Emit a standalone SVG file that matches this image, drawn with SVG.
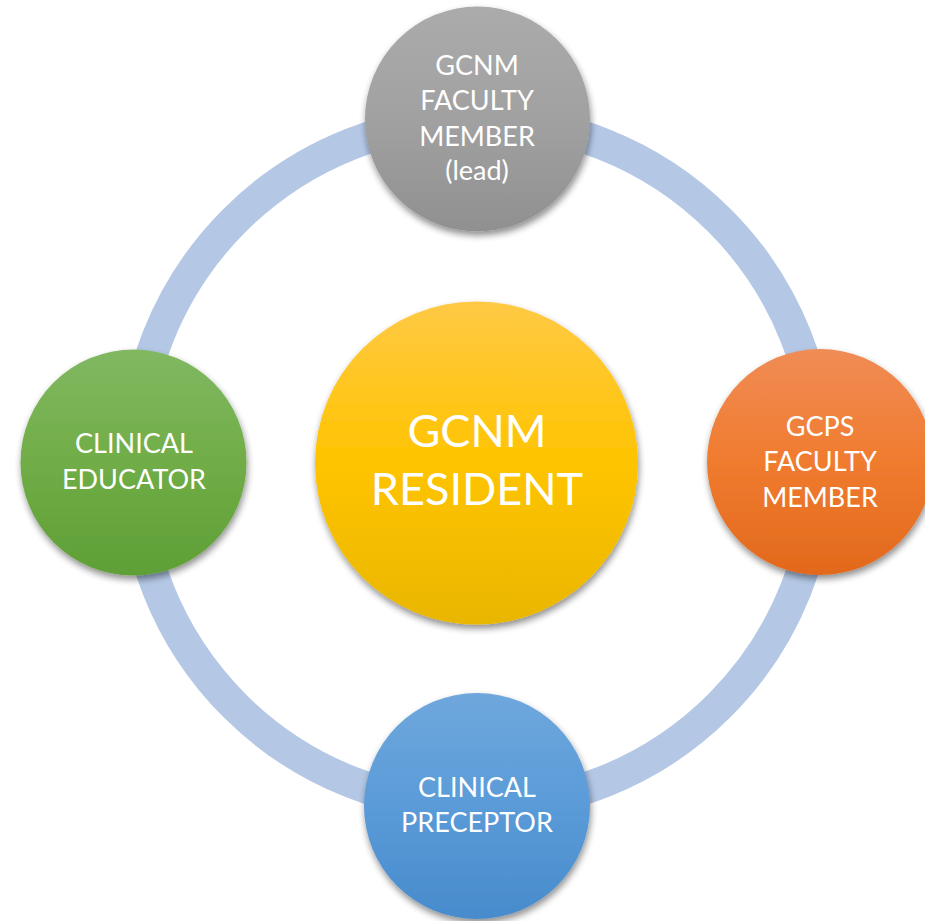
<svg xmlns="http://www.w3.org/2000/svg" width="925" height="921" viewBox="0 0 925 921">
<defs>
<style>
.lbl{font-family:Lato,"Open Sans","Liberation Sans",sans-serif;fill:#ffffff;text-anchor:middle;font-size:27px}
.big{font-size:45px}
</style>
<filter id="sh" x="-20%" y="-20%" width="140%" height="145%">
<feGaussianBlur in="SourceAlpha" stdDeviation="3.5"/>
<feOffset dx="1" dy="4" result="b"/>
<feComponentTransfer><feFuncA type="linear" slope="0.45"/></feComponentTransfer>
<feMerge><feMergeNode/><feMergeNode in="SourceGraphic"/></feMerge>
</filter>
<linearGradient id="gGray" x1="0" y1="0" x2="0" y2="1"><stop offset="0" stop-color="#ABABAB"/><stop offset="0.5" stop-color="#A1A1A1"/><stop offset="1" stop-color="#909090"/></linearGradient>
<linearGradient id="gGreen" x1="0" y1="0" x2="0" y2="1"><stop offset="0" stop-color="#81B862"/><stop offset="0.5" stop-color="#70AD47"/><stop offset="1" stop-color="#5F9F36"/></linearGradient>
<linearGradient id="gOrange" x1="0" y1="0" x2="0" y2="1"><stop offset="0" stop-color="#F08C55"/><stop offset="0.5" stop-color="#F07B2F"/><stop offset="1" stop-color="#E2691C"/></linearGradient>
<linearGradient id="gBlue" x1="0" y1="0" x2="0" y2="1"><stop offset="0" stop-color="#6FA7DC"/><stop offset="0.5" stop-color="#5A9BD8"/><stop offset="1" stop-color="#488BCC"/></linearGradient>
<linearGradient id="gYellow" x1="0" y1="0" x2="0" y2="1"><stop offset="0" stop-color="#FFC945"/><stop offset="0.5" stop-color="#FFC400"/><stop offset="1" stop-color="#E9B600"/></linearGradient>
</defs>
<rect width="925" height="921" fill="#ffffff"/>
<g id="connectors">
<circle cx="477" cy="463" r="343" fill="none" stroke="#B4C8E6" stroke-width="32"/>
</g>
<g id="resident">
<circle cx="476.5" cy="463" r="161.5" fill="url(#gYellow)" filter="url(#sh)"/>
<text class="lbl big" x="477" y="447">GCNM</text>
<text class="lbl big" x="477" y="505">RESIDENT</text>
</g>
<g id="gcnm-faculty">
<circle cx="477.5" cy="119" r="112.5" fill="url(#gGray)" filter="url(#sh)"/>
<text class="lbl" x="477" y="75">GCNM</text>
<text class="lbl" x="477" y="110">FACULTY</text>
<text class="lbl" x="477" y="146">MEMBER</text>
<text class="lbl" x="477" y="180">(lead)</text>
</g>
<g id="clinical-educator">
<circle cx="133.5" cy="462.5" r="113" fill="url(#gGreen)" filter="url(#sh)"/>
<text class="lbl" x="134" y="453">CLINICAL</text>
<text class="lbl" x="134" y="489">EDUCATOR</text>
</g>
<g id="gcps-faculty">
<circle cx="820" cy="462" r="113" fill="url(#gOrange)" filter="url(#sh)"/>
<text class="lbl" x="820" y="436">GCPS</text>
<text class="lbl" x="820" y="471">FACULTY</text>
<text class="lbl" x="820" y="507">MEMBER</text>
</g>
<g id="clinical-preceptor">
<circle cx="477" cy="806" r="113" fill="url(#gBlue)" filter="url(#sh)"/>
<text class="lbl" x="477" y="797">CLINICAL</text>
<text class="lbl" x="477" y="832">PRECEPTOR</text>
</g>
</svg>
